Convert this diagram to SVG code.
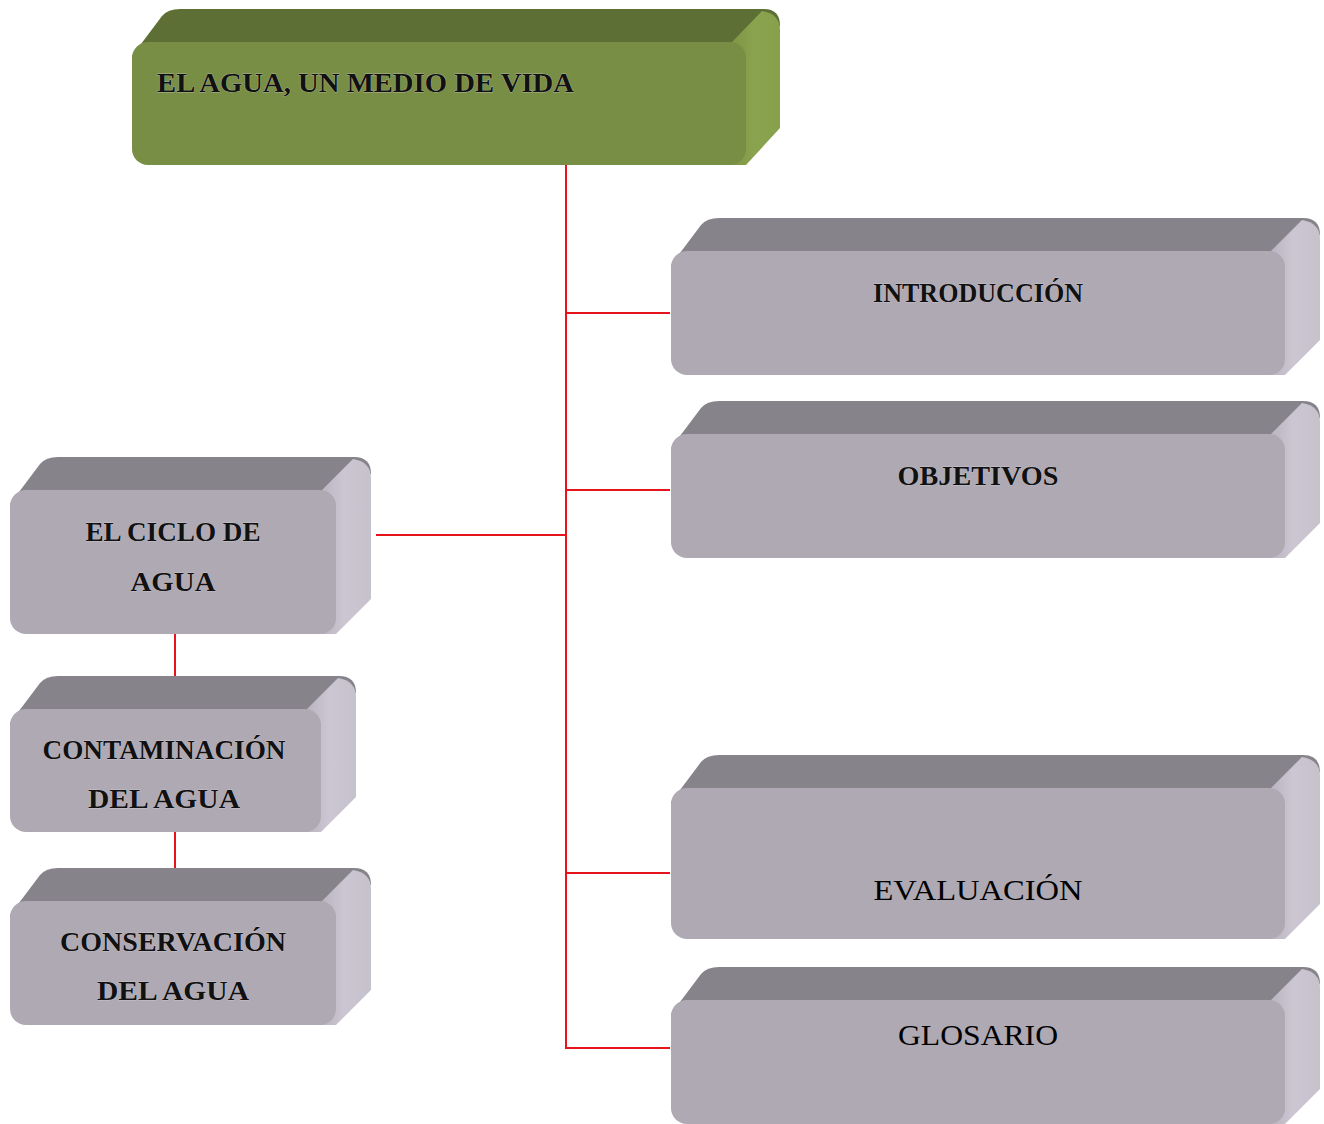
<svg xmlns="http://www.w3.org/2000/svg" width="1324" height="1124" viewBox="0 0 1324 1124">
<defs>
<linearGradient id="gR" x1="0" y1="0" x2="1" y2="0"><stop offset="0" stop-color="#b6b1bd"/><stop offset="0.5" stop-color="#cbc6d2"/><stop offset="1" stop-color="#c6c2cc"/></linearGradient>
<linearGradient id="gRg" x1="0" y1="0" x2="1" y2="0"><stop offset="0" stop-color="#7b9244"/><stop offset="0.5" stop-color="#8aa34e"/><stop offset="1" stop-color="#87a04c"/></linearGradient>
<style>
.top{fill:#86838b}
.rt{fill:url(#gR)}
.fr{fill:#aea9b3}
.gtop{fill:#5e6f35}
.grt{fill:url(#gRg)}
.gfr{fill:#788e44}
.deco{font-family:"Liberation Serif","DejaVu Serif",serif;font-weight:bold;fill:#111;stroke:#e0dde4;stroke-width:0.4;paint-order:stroke}
.plain{font-family:"Liberation Serif","Times New Roman",serif;fill:#000}
.conn line{stroke:#e8141c;stroke-width:2}
</style>
</defs>

<g class="conn" id="connectors">
<line x1="566" y1="165" x2="566" y2="1049"/>
<line x1="565" y1="313" x2="670" y2="313"/>
<line x1="565" y1="490" x2="670" y2="490"/>
<line x1="565" y1="873" x2="670" y2="873"/>
<line x1="565" y1="1048" x2="670" y2="1048"/>
<line x1="376" y1="535" x2="567" y2="535"/>
<line x1="175" y1="634" x2="175" y2="690"/>
<line x1="175" y1="832" x2="175" y2="889"/>
</g>

<g id="root" transform="translate(132,42)">
<path class="gtop" d="M0,14 L30,-26 Q36,-33 48,-33 L632,-33 Q648,-33 648,-16 L600,20 L0,20 Z"/>
<path class="grt" d="M600,0 L630,-31 Q648,-28 648,-12 L648,86 L614,123 L595,123 Z"/>
<rect class="gfr" x="0" y="0" width="614" height="123" rx="16"/>
<text class="deco" x="25" y="50" font-size="27" textLength="417" lengthAdjust="spacingAndGlyphs">EL AGUA, UN MEDIO DE VIDA</text>
</g>

<g id="introduccion" transform="translate(671,251)">
<path class="top" d="M0,14 L30,-26 Q36,-33 48,-33 L632,-33 Q649,-33 649,-16 L600,20 L0,20 Z"/>
<path class="rt" d="M600,0 L631,-31 Q649,-28 649,-12 L649,89 L614,124 L595,124 Z"/>
<rect class="fr" x="0" y="0" width="614" height="124" rx="16"/>
<text class="deco" x="307" y="51" font-size="27" text-anchor="middle" textLength="210" lengthAdjust="spacingAndGlyphs">INTRODUCCIÓN</text>
</g>

<g id="objetivos" transform="translate(671,434)">
<path class="top" d="M0,14 L30,-26 Q36,-33 48,-33 L632,-33 Q649,-33 649,-16 L600,20 L0,20 Z"/>
<path class="rt" d="M600,0 L631,-31 Q649,-28 649,-12 L649,89 L614,124 L595,124 Z"/>
<rect class="fr" x="0" y="0" width="614" height="124" rx="16"/>
<text class="deco" x="307" y="51" font-size="27" text-anchor="middle" textLength="161" lengthAdjust="spacingAndGlyphs">OBJETIVOS</text>
</g>

<g id="evaluacion" transform="translate(671,788)">
<path class="top" d="M0,14 L30,-26 Q36,-33 48,-33 L632,-33 Q649,-33 649,-16 L600,20 L0,20 Z"/>
<path class="rt" d="M600,0 L631,-31 Q649,-28 649,-12 L649,116 L614,151 L595,151 Z"/>
<rect class="fr" x="0" y="0" width="614" height="151" rx="16"/>
<text class="plain" x="307" y="112" font-size="30" text-anchor="middle" textLength="209" lengthAdjust="spacingAndGlyphs">EVALUACIÓN</text>
</g>

<g id="glosario" transform="translate(671,1000)">
<path class="top" d="M0,14 L30,-26 Q36,-33 48,-33 L632,-33 Q649,-33 649,-16 L600,20 L0,20 Z"/>
<path class="rt" d="M600,0 L631,-31 Q649,-28 649,-12 L649,89 L614,124 L595,124 Z"/>
<rect class="fr" x="0" y="0" width="614" height="124" rx="16"/>
<text class="plain" x="307" y="45" font-size="30" text-anchor="middle" textLength="160" lengthAdjust="spacingAndGlyphs">GLOSARIO</text>
</g>

<g id="ciclo" transform="translate(10,490)">
<path class="top" d="M0,14 L30,-26 Q36,-33 48,-33 L344,-33 Q361,-33 361,-16 L312,20 L0,20 Z"/>
<path class="rt" d="M312,0 L343,-31 Q361,-28 361,-12 L361,109 L326,144 L307,144 Z"/>
<rect class="fr" x="0" y="0" width="326" height="144" rx="16"/>
<text class="deco" x="163" y="51" font-size="27" text-anchor="middle" textLength="175" lengthAdjust="spacingAndGlyphs">EL CICLO DE</text>
<text class="deco" x="163" y="101" font-size="27" text-anchor="middle" textLength="85" lengthAdjust="spacingAndGlyphs">AGUA</text>
</g>

<g id="contaminacion" transform="translate(10,709)">
<path class="top" d="M0,14 L30,-26 Q36,-33 48,-33 L329,-33 Q346,-33 346,-16 L297,20 L0,20 Z"/>
<path class="rt" d="M297,0 L328,-31 Q346,-28 346,-12 L346,88 L311,123 L292,123 Z"/>
<rect class="fr" x="0" y="0" width="311" height="123" rx="16"/>
<text class="deco" x="154" y="50" font-size="27" text-anchor="middle" textLength="243" lengthAdjust="spacingAndGlyphs">CONTAMINACIÓN</text>
<text class="deco" x="154" y="99" font-size="27" text-anchor="middle" textLength="152" lengthAdjust="spacingAndGlyphs">DEL AGUA</text>
</g>

<g id="conservacion" transform="translate(10,901)">
<path class="top" d="M0,14 L30,-26 Q36,-33 48,-33 L344,-33 Q361,-33 361,-16 L312,20 L0,20 Z"/>
<path class="rt" d="M312,0 L343,-31 Q361,-28 361,-12 L361,89 L326,124 L307,124 Z"/>
<rect class="fr" x="0" y="0" width="326" height="124" rx="16"/>
<text class="deco" x="163" y="50" font-size="27" text-anchor="middle" textLength="226" lengthAdjust="spacingAndGlyphs">CONSERVACIÓN</text>
<text class="deco" x="163" y="99" font-size="27" text-anchor="middle" textLength="152" lengthAdjust="spacingAndGlyphs">DEL AGUA</text>
</g>
</svg>
